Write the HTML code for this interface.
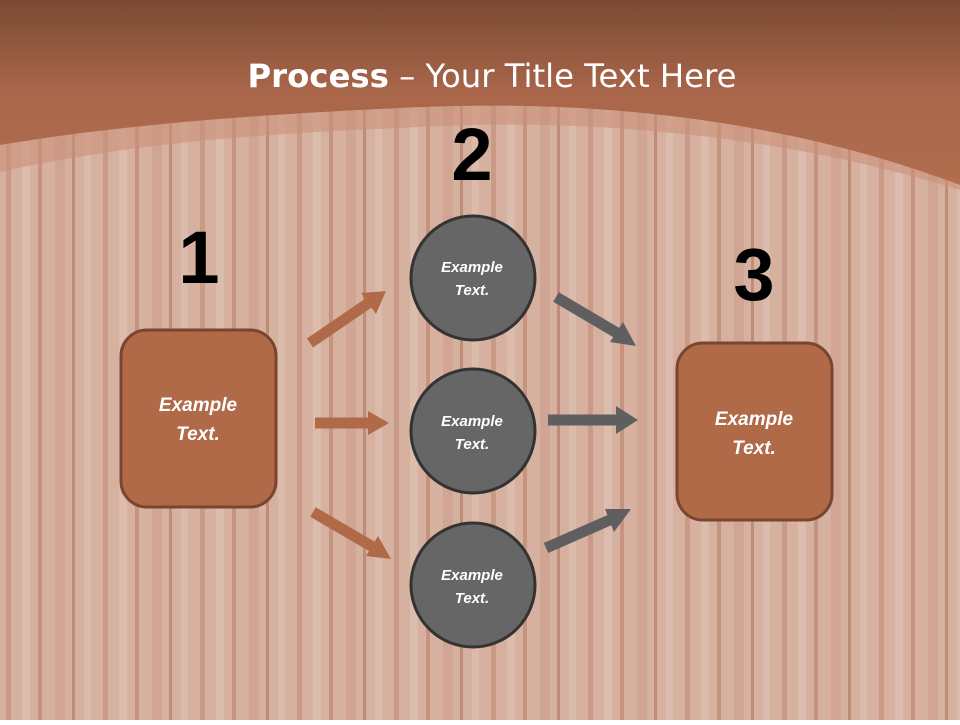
<!DOCTYPE html>
<html><head><style>
body{margin:0;width:960px;height:720px;overflow:hidden;font-family:"Liberation Sans",sans-serif}
</style></head><body>
<svg width="960" height="720" viewBox="0 0 960 720" xmlns="http://www.w3.org/2000/svg">
<defs>
<linearGradient id="hg" x1="0" y1="0" x2="0" y2="1">
<stop offset="0" stop-color="#7b4a33"/><stop offset="0.5" stop-color="#a9664a"/><stop offset="1" stop-color="#b06e4e"/></linearGradient>
<pattern id="wood" width="97" height="720" patternUnits="userSpaceOnUse">
<rect width="97" height="720" fill="#d6b1a0"/>
<rect x="6" width="5" height="720" fill="#c99a86"/>
<rect x="22" width="8" height="720" fill="#dcbcac"/>
<rect x="38" width="4" height="720" fill="#c6937f"/>
<rect x="55" width="10" height="720" fill="#d0a593"/>
<rect x="72" width="3" height="720" fill="#c08c77"/>
<rect x="84" width="7" height="720" fill="#dbbbab"/>
</pattern>
</defs>
<rect width="960" height="720" fill="url(#wood)"/>
<path d="M0 0H960V185C760 110 560 100 400 108C250 115 120 125 0 145Z" fill="url(#hg)"/>
<path d="M0 145C120 125 250 115 400 108C560 100 760 110 960 185V190C760 128 560 118 400 128C250 134 120 145 0 172Z" fill="#c98f78" opacity="0.6"/>
<text x="492" y="87" text-anchor="middle" fill="#fff" font-size="32" font-family="'DejaVu Sans','Liberation Sans',sans-serif" textLength="489" lengthAdjust="spacingAndGlyphs"><tspan font-weight="bold">Process</tspan> – Your Title Text Here</text>
<g font-weight="bold" font-size="74" fill="#000" text-anchor="middle" font-family="'Liberation Sans',sans-serif">
<text x="472" y="180">2</text><text x="199" y="283">1</text><text x="754" y="300">3</text></g>
<rect x="121" y="330" width="155" height="177" rx="26" fill="#b06a48" stroke="#7a4530" stroke-width="3"/>
<rect x="677" y="343" width="155" height="177" rx="26" fill="#b06a48" stroke="#7a4530" stroke-width="3"/>
<g fill="#666" stroke="#333" stroke-width="3">
<circle cx="473" cy="278" r="62"/><circle cx="473" cy="431" r="62"/><circle cx="473" cy="585" r="62"/></g>
<g fill="#fff" font-style="italic" font-weight="bold" text-anchor="middle">
<text x="198" y="411" font-size="19">Example</text><text x="198" y="440" font-size="19">Text.</text>
<text x="754" y="425" font-size="19">Example</text><text x="754" y="454" font-size="19">Text.</text>
<text x="472" y="272" font-size="15">Example</text><text x="472" y="295" font-size="15">Text.</text>
<text x="472" y="426" font-size="15">Example</text><text x="472" y="449" font-size="15">Text.</text>
<text x="472" y="580" font-size="15">Example</text><text x="472" y="603" font-size="15">Text.</text>
</g>
<g stroke-width="11">
<line x1="310" y1="343" x2="370" y2="302" stroke="#b06a48"/>
<line x1="315" y1="423" x2="370" y2="423" stroke="#b06a48"/>
<line x1="313" y1="512" x2="373" y2="547" stroke="#b06a48"/>
<line x1="556" y1="297" x2="617" y2="333" stroke="#5f5f5f"/>
<line x1="548" y1="420" x2="618" y2="420" stroke="#5f5f5f"/>
<line x1="546" y1="548" x2="612" y2="519" stroke="#5f5f5f"/>
</g>
<g fill="#b06a48">
<polygon points="386,291 361,293 376,314"/>
<polygon points="389,423 368,411 368,435"/>
<polygon points="391,559 378,536 366,556"/>
</g>
<g fill="#5f5f5f">
<polygon points="636,346 623,322 610,342"/>
<polygon points="638,420 616,406 616,434"/>
<polygon points="631,509 605,509 614,532"/>
</g>
</svg>
</body></html>
